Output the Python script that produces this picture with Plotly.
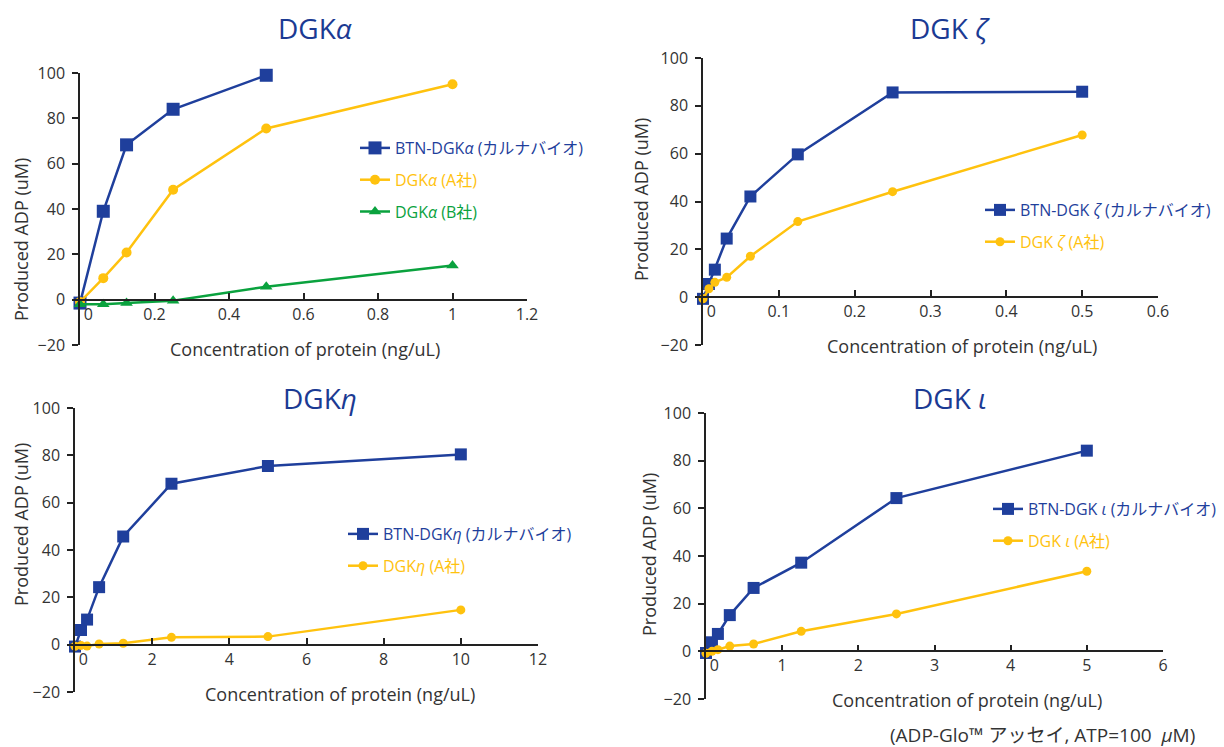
import plotly.graph_objects as go

# page body has an 8px margin: draw the figure 8px smaller and offset all positions
OFF = 8
W, H = 1224 - OFF, 747 - OFF

# ---------------- data ----------------
# DGK alpha
a_x_btn = [0, 0.0625, 0.125, 0.25, 0.5]
a_y_btn = [-1.5, 39, 68.3, 84, 99]
a_x_a = [0, 0.0625, 0.125, 0.25, 0.5, 1.0]
a_y_a = [-1, 9.5, 20.8, 48.5, 75.5, 95]
a_x_b = [0, 0.0625, 0.125, 0.25, 0.5, 1.0]
a_y_b = [-2, -2, -1.5, -0.5, 5.7, 15.1]

# DGK zeta
z_x = [0, 0.0078125, 0.015625, 0.03125, 0.0625, 0.125, 0.25, 0.5]
z_y_btn = [-0.7, 5.5, 11.5, 24.5, 42.1, 59.7, 85.6, 85.9]
z_y_a = [-0.7, 3.5, 6.2, 8.3, 17.1, 31.6, 44.1, 67.8]

# DGK eta
e_x = [0, 0.15625, 0.3125, 0.625, 1.25, 2.5, 5, 10]
e_y_btn = [-0.8, 6.2, 10.6, 24.3, 45.7, 68, 75.5, 80.4]
e_y_a = [-0.7, -0.3, -0.6, 0.3, 0.6, 3.1, 3.4, 14.7]

# DGK iota
i_x = [0, 0.078125, 0.15625, 0.3125, 0.625, 1.25, 2.5, 5]
i_y_btn = [-0.7, 3.8, 7.3, 15.2, 26.6, 37.2, 64.3, 84.2]
i_y_a = [-0.8, 0.0, 0.7, 2.2, 3.1, 8.4, 15.7, 33.6]

y_ticks = [-20, 0, 20, 40, 60, 80, 100]
a_xticks = [0, 0.2, 0.4, 0.6, 0.8, 1, 1.2]
z_xticks = [0, 0.1, 0.2, 0.3, 0.4, 0.5, 0.6]
e_xticks = [0, 2, 4, 6, 8, 10, 12]
i_xticks = [0, 1, 2, 3, 4, 5, 6]

BLUE = "#1f3f9c"
YEL = "#ffc20e"
GRN = "#0aa23e"
NAVY = "#1b3a93"
TXT = "#333333"
AX = "#222222"
FONT = "Open Sans, Noto Sans CJK JP"


def px(x):
    return (x - OFF) / W


def py(y):
    return 1 - (y - OFF) / H


fig = go.Figure()

# panel geometry in pixels: (x_left, x_right, y_top(100), y_bottom(-20))
panels = [
    dict(xl=80, xr=527, yt=73, yb=345, xr_max=1.2, xt=a_xticks),
    dict(xl=703, xr=1158, yt=58, yb=345, xr_max=0.6, xt=z_xticks),
    dict(xl=75, xr=538, yt=408, yb=692, xr_max=12, xt=e_xticks),
    dict(xl=706, xr=1163, yt=413, yb=699, xr_max=6, xt=i_xticks),
]

layout = {}
for k, p in enumerate(panels):
    n = "" if k == 0 else str(k + 1)
    y0 = py(p["yb"])
    y1 = py(p["yt"])
    xpos = y0 + (y1 - y0) * 20 / 120  # y = 0 position
    ticktext = ["\u00a0\u00a0\u00a0\u00a00" if v == 0 else ("%g" % v) for v in p["xt"]]
    layout["xaxis" + n] = dict(
        domain=[px(p["xl"]), px(p["xr"])], range=[0, p["xr_max"]],
        anchor="free", position=xpos, showgrid=False, zeroline=False,
        showline=True, linecolor=AX, linewidth=1.5, automargin=False,
        ticks="inside", ticklen=6, tickwidth=1.5, tickcolor=AX,
        tickvals=p["xt"], ticktext=ticktext,
        tickfont=dict(family=FONT, size=16, color=TXT),
    )
    layout["yaxis" + n] = dict(
        domain=[y0, y1], range=[-20, 100], anchor="x" + n,
        showgrid=False, zeroline=False, automargin=False,
        showline=True, linecolor=AX, linewidth=1.5,
        ticks="outside", ticklen=6, tickwidth=1.5, tickcolor=AX,
        tickvals=y_ticks, ticklabelstandoff=4,
        tickfont=dict(family=FONT, size=16, color=TXT),
    )


def add(x, y, name, color, symbol, size, k, legend):
    n = "" if k == 0 else str(k + 1)
    fig.add_trace(go.Scatter(
        x=x, y=y, mode="lines+markers",
        name="<span style='color:%s'>%s</span>" % (color, name),
        line=dict(color=color, width=2.5),
        marker=dict(color=color, symbol=symbol, size=size),
        xaxis="x" + n, yaxis="y" + n, cliponaxis=False,
        legend=legend, legendgroup=name + str(k),
    ))


add(a_x_btn, a_y_btn, "BTN-DGK<i>α</i> (カルナバイオ)", BLUE, "square", 13, 0, "legend")
add(a_x_a, a_y_a, "DGK<i>α</i> (A社)", YEL, "circle", 10, 0, "legend")
add(a_x_b, a_y_b, "DGK<i>α</i> (B社)", GRN, "triangle-up", 11, 0, "legend")

add(z_x, z_y_btn, "BTN-DGK <i>ζ</i> (カルナバイオ)", BLUE, "square", 12, 1, "legend2")
add(z_x, z_y_a, "DGK <i>ζ</i> (A社)", YEL, "circle", 9, 1, "legend2")

add(e_x, e_y_btn, "BTN-DGK<i>η</i> (カルナバイオ)", BLUE, "square", 12, 2, "legend3")
add(e_x, e_y_a, "DGK<i>η</i> (A社)", YEL, "circle", 9, 2, "legend3")

add(i_x, i_y_btn, "BTN-DGK <i>ι</i> (カルナバイオ)", BLUE, "square", 12, 3, "legend4")
add(i_x, i_y_a, "DGK <i>ι</i> (A社)", YEL, "circle", 9, 3, "legend4")


def leg(x, y):
    return dict(x=px(x), y=py(y), xanchor="left", yanchor="top",
                bgcolor="rgba(0,0,0,0)", traceorder="grouped", tracegroupgap=8,
                font=dict(family=FONT, size=16), itemwidth=30)


layout["legend"] = leg(355, 131)
layout["legend2"] = leg(980, 193)
layout["legend3"] = leg(343, 517)
layout["legend4"] = leg(988, 492)

annotations = []


def txt(x, y, s, size, color, angle=0, xanchor="center"):
    annotations.append(dict(
        x=px(x), y=py(y), xref="paper", yref="paper", text=s, showarrow=False,
        font=dict(family=FONT, size=size, color=color), textangle=angle,
        xanchor=xanchor, yanchor="middle"))


txt(315, 28, "DGK<i>α</i>", 28, NAVY)
txt(950, 28, "DGK <i>ζ</i>", 28, NAVY)
txt(320, 398, "DGK<i>η</i>", 28, NAVY)
txt(950, 398, "DGK <i>ι</i>", 28, NAVY)

XT = "Concentration of protein (ng/uL)"
YT = "Produced ADP (uM)"
txt(305, 349, XT, 18, TXT)
txt(962, 346, XT, 18, TXT)
txt(340, 694, XT, 18, TXT)
txt(967, 700, XT, 18, TXT)
txt(21, 240, YT, 18, TXT, -90)
txt(641, 200, YT, 18, TXT, -90)
txt(21, 525, YT, 18, TXT, -90)
txt(649, 555, YT, 18, TXT, -90)

txt(1197, 735, "(ADP-Glo™ アッセイ, ATP=100\u00a0 <i>μ</i>M)", 19, TXT, xanchor="right")

fig.update_layout(
    width=W, height=H,
    margin=dict(l=0, r=0, t=0, b=0, pad=0, autoexpand=False),
    paper_bgcolor="white", plot_bgcolor="white",
    annotations=annotations, showlegend=True,
    **layout,
)

fig.write_html("out.html")
